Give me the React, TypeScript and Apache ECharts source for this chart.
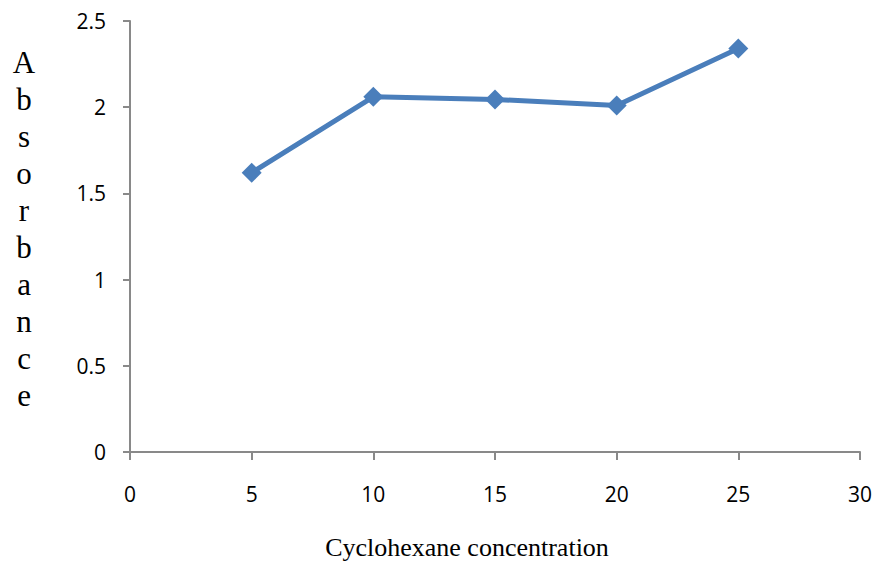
import React, { useEffect, useRef } from "react";
import * as echarts from "echarts";

const xValues = [5, 10, 15, 20, 25];
const absorbance = [1.62, 2.06, 2.045, 2.01, 2.34];
const xTitle = "Cyclohexane concentration";
const yTitle = "Absorbance";

export default function App() {
  const ref = useRef<HTMLDivElement>(null);
  useEffect(() => {
    if (!ref.current) return;
    const chart = echarts.init(ref.current, null, { renderer: "svg" });
    const axisColor = "#898989";
    const labelFont = { fontFamily: "Open Sans", fontSize: 21, color: "#000" };
    chart.setOption({
      animation: false,
      backgroundColor: "#fff",
      grid: { left: 130, right: 16, top: 21, bottom: 112 },
      xAxis: {
        type: "value",
        min: 0,
        max: 30,
        interval: 5,
        axisLine: { show: true, onZero: false, lineStyle: { color: axisColor, width: 2 } },
        axisTick: { show: true, length: 8, lineStyle: { color: axisColor, width: 2 } },
        axisLabel: { ...labelFont, margin: 31 },
        splitLine: { show: false },
      },
      yAxis: {
        type: "value",
        min: 0,
        max: 2.5,
        interval: 0.5,
        axisLine: { show: true, lineStyle: { color: axisColor, width: 2 } },
        axisTick: { show: true, length: 7, lineStyle: { color: axisColor, width: 2 } },
        axisLabel: { ...labelFont, margin: 24 },
        splitLine: { show: false },
      },
      series: [
        {
          type: "line",
          data: xValues.map((x, i) => [x, absorbance[i]]),
          symbol: "diamond",
          symbolSize: 20,
          lineStyle: { color: "#4a7ebb", width: 5 },
          itemStyle: { color: "#4a7ebb" },
        },
      ],
      graphic: [
        {
          type: "text",
          x: 467,
          y: 534,
          style: {
            text: xTitle,
            align: "center",
            verticalAlign: "top",
            fontFamily: "Liberation Serif",
            fontSize: 26,
            fill: "#000",
          },
        },
        {
          type: "text",
          x: 24,
          y: 44,
          style: {
            text: yTitle.split("").join("\n"),
            align: "center",
            verticalAlign: "top",
            lineHeight: 37,
            fontFamily: "Liberation Serif",
            fontSize: 31,
            fill: "#000",
          },
        },
      ],
    });
    return () => chart.dispose();
  }, []);
  return <div ref={ref} style={{ width: 876, height: 564, position: "absolute", left: 0, top: 0 }} />;
}
